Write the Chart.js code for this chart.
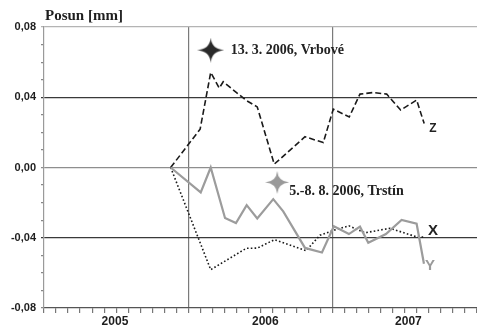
<!DOCTYPE html>
<html><head><meta charset="utf-8">
<script src="https://cdn.jsdelivr.net/npm/chart.js@4.4.0/dist/chart.umd.min.js"></script>
<style>html,body{margin:0;padding:0;background:#fff;}canvas{display:block;}</style>
</head><body>
<canvas id="c" width="477" height="329" style="width:477px;height:329px"></canvas>
<script>
// ---- data (x = months since Jan 2005, y = displacement in mm) ----
const axisTitle = 'Posun [mm]';
const yearTickLabels = ['2005', '2006', '2007'];
const yearTickMonths = [5.9, 18.4, 30.3];

const zMonths = [10.53, 12.98, 13.86, 14.57, 14.90, 16.85, 17.73, 19.14, 21.70, 23.22, 24.05, 25.38, 26.27, 27.37, 28.49, 29.65, 30.98, 31.61];
const zValues = [0.000, 0.0218, 0.0541, 0.0452, 0.0488, 0.0380, 0.0345, 0.0019, 0.0175, 0.0142, 0.0332, 0.0288, 0.0418, 0.0427, 0.0418, 0.0327, 0.0384, 0.0250];

const yMonths = [10.53, 13.03, 13.86, 15.05, 15.96, 16.85, 17.73, 19.06, 19.89, 21.70, 23.11, 24.10, 25.35, 26.27, 26.96, 28.43, 29.73, 30.98, 31.59];
const yValues = [0.000, -0.0142, 0.0000, -0.0288, -0.0316, -0.0214, -0.0290, -0.0180, -0.0250, -0.0458, -0.0484, -0.0335, -0.0379, -0.0337, -0.0428, -0.0379, -0.0299, -0.0320, -0.0548];

const xMonths = [10.53, 13.86, 16.82, 17.73, 19.16, 21.78, 22.94, 24.10, 25.35, 26.68, 28.76, 30.84, 31.59];
const xValues = [0.000, -0.0582, -0.0460, -0.0459, -0.0411, -0.0474, -0.0386, -0.0357, -0.0332, -0.0372, -0.0346, -0.0392, -0.0397];

const eventMonths = [13.86, 19.39];
const eventValues = [0.0668, -0.0085];
const eventTexts = ['13. 3. 2006, Vrbové', '5.-8. 8. 2006, Trstín'];
const seriesNames = ['Z', 'X', 'Y'];

const MONTH_TICKS = 37;

// ---- helpers ----
const pts = (xs, ys) => xs.map((v, i) => ({x: v, y: ys[i]}));
function makeStar(color, w, h) {
  const c = document.createElement('canvas');
  c.width = w; c.height = h;
  const g = c.getContext('2d');
  const cx = w / 2, cy = h / 2, r = Math.min(w, h) * 0.13;
  g.beginPath();
  g.moveTo(cx, 0);
  g.quadraticCurveTo(cx + r * 0.3, cy - r * 0.3, w, cy);
  g.quadraticCurveTo(cx + r * 0.3, cy + r * 0.3, cx, h);
  g.quadraticCurveTo(cx - r * 0.3, cy + r * 0.3, 0, cy);
  g.quadraticCurveTo(cx - r * 0.3, cy - r * 0.3, cx, 0);
  g.closePath();
  g.fillStyle = color; g.fill();
  g.beginPath(); g.arc(cx, cy, r * 1.2, 0, Math.PI * 2); g.fill();
  return c;
}
const starBlack = makeStar('#2a2a2a', 27, 25);
const starGray = makeStar('#9a9a9a', 24, 23);

const overlay = {
  id: 'overlay',
  afterDraw(chart) {
    const {ctx} = chart;
    const xs = chart.scales.x, ys = chart.scales.y;
    ctx.save();
    ctx.fillStyle = '#1e1e1e';
    ctx.font = 'bold 15px "Liberation Serif"';
    ctx.textBaseline = 'alphabetic';
    ctx.textAlign = 'left';
    ctx.fillText(axisTitle, 45, 20);
    ctx.font = 'bold 14px "Liberation Serif"';
    ctx.textBaseline = 'middle';
    const textOffsets = [20, 12];
    eventTexts.forEach((t, i) => {
      ctx.fillStyle = '#222';
      ctx.fillText(t, xs.getPixelForValue(eventMonths[i]) + textOffsets[i], ys.getPixelForValue(eventValues[i]) + (i === 1 ? 9 : 0));
    });
    // series end labels
    const ends = [
      {name: seriesNames[0], m: zMonths, v: zValues, dx: 5, dy: 5, font: 'bold 12px "Liberation Sans"', col: '#222'},
      {name: seriesNames[1], m: xMonths, v: xValues, dx: 4, dy: -6, font: 'bold 15px "Liberation Sans"', col: '#222'},
      {name: seriesNames[2], m: yMonths, v: yValues, dx: 1, dy: 2, font: 'bold 15px "Liberation Sans"', col: '#9a9a9a'}
    ];
    ends.forEach(e => {
      ctx.font = e.font; ctx.fillStyle = e.col;
      const n = e.m.length - 1;
      ctx.fillText(e.name, xs.getPixelForValue(e.m[n]) + e.dx, ys.getPixelForValue(e.v[n]) + e.dy);
    });
    ctx.restore();
  }
};

const yMajorColor = v => {
  const k = Math.round(v * 100);
  if (k === 4 || k === -4) return '#3a3a3a';
  if (k === 0) return '#8e8e8e';
  if (k === 8) return '#b4b4b4';
  return 'rgba(0,0,0,0)';
};

new Chart(document.getElementById('c'), {
  type: 'line',
  data: {
    datasets: [
      {label: 'events', data: pts(eventMonths, eventValues), showLine: false,
       pointStyle: [starBlack, starGray], pointRadius: 12, order: 0},
      {label: 'Z', data: pts(zMonths, zValues), borderColor: '#1a1a1a', borderWidth: 1.6,
       borderDash: [6, 3], pointRadius: 0, tension: 0, order: 3},
      {label: 'X', data: pts(xMonths, xValues), borderColor: '#1a1a1a', borderWidth: 1.6,
       borderDash: [1.6, 2.2], pointRadius: 0, tension: 0, order: 2},
      {label: 'Y', data: pts(yMonths, yValues), borderColor: '#9c9c9c', borderWidth: 2.2,
       pointRadius: 0, tension: 0, order: 1}
    ]
  },
  options: {
    responsive: false,
    animation: false,
    devicePixelRatio: 1,
    layout: {autoPadding: false, padding: {top: 27, right: 0, left: 0, bottom: 0}},
    plugins: {legend: {display: false}, tooltip: {enabled: false}, title: {display: false}},
    scales: {
      x: {
        type: 'linear', min: 0, max: 36,
        afterBuildTicks: s => {
          const t = Array.from({length: MONTH_TICKS}, (_, i) => ({value: i}));
          yearTickMonths.forEach(m => t.push({value: m}));
          s.ticks = t;
        },
        afterFit: s => { s.height = 21; s.paddingRight = 0; s.paddingLeft = 0; },
        ticks: {
          autoSkip: false, maxRotation: 0, padding: 1, color: '#1e1e1e',
          font: {family: 'Liberation Sans', size: 12, weight: 'bold'},
          callback: (v, i) => i >= MONTH_TICKS ? yearTickLabels[i - MONTH_TICKS] : ''
        },
        grid: {
          color: c => (c.tick && c.index < MONTH_TICKS && (c.tick.value === 12 || c.tick.value === 24)) ? '#7a7a7a' : 'rgba(0,0,0,0)',
          tickColor: c => (c.index >= MONTH_TICKS) ? 'rgba(0,0,0,0)' : '#777',
          tickLength: 5, lineWidth: 1.2
        },
        border: {color: '#555', width: 1.2}
      },
      y: {
        type: 'linear', min: -0.08, max: 0.08,
        afterBuildTicks: s => { s.ticks = Array.from({length: 17}, (_, i) => ({value: (i - 8) / 100})); },
        afterFit: s => { s.width = 44; },
        ticks: {
          autoSkip: false, padding: 5, color: '#1e1e1e',
          font: {family: 'Liberation Sans', size: 11, weight: 'bold'},
          callback: v => (Math.round(v * 100) % 4 === 0) ? v.toFixed(2).replace('.', ',') : ''
        },
        grid: {
          color: c => c.tick ? yMajorColor(c.tick.value) : 'rgba(0,0,0,0)',
          tickColor: c => { const col = c.tick ? yMajorColor(c.tick.value) : '#888'; return col === 'rgba(0,0,0,0)' ? '#888' : col; },
          tickLength: 3, lineWidth: 1.2
        },
        border: {color: '#9a9a9a', width: 1.2}
      }
    }
  },
  plugins: [overlay]
});
</script>
</body></html>
